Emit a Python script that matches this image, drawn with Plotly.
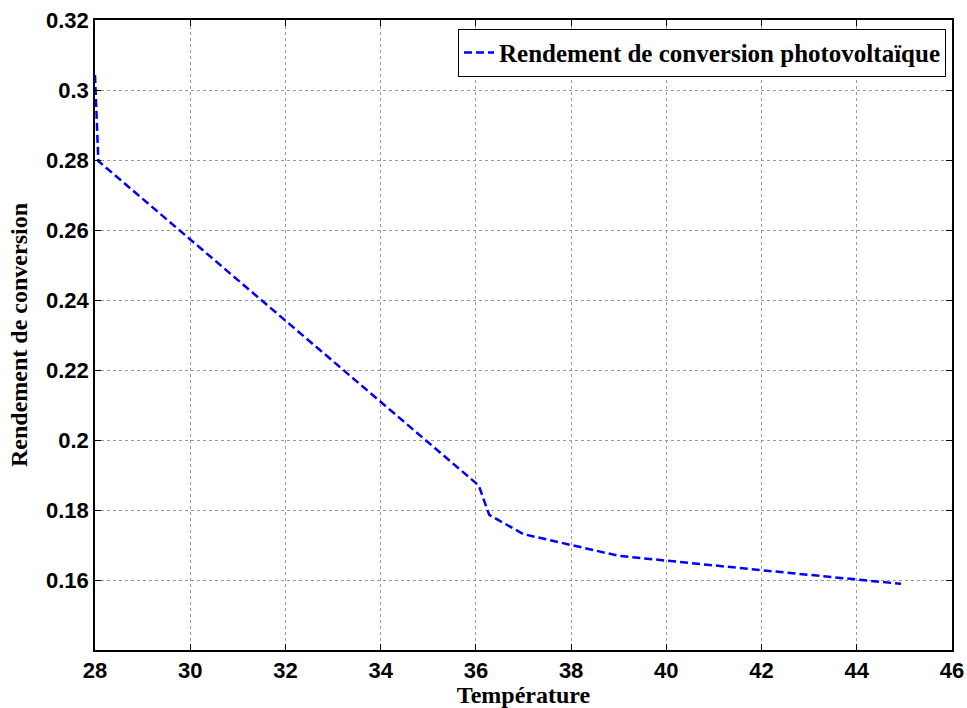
import plotly.graph_objects as go

temperature = [28.0, 28.07, 36.06, 36.28, 37.0, 39.0, 42.0, 44.0, 44.93]
rendement = [0.3043, 0.2797, 0.1870, 0.1786, 0.1731, 0.1669, 0.1628, 0.1600, 0.1589]

x_ticks = [28, 30, 32, 34, 36, 38, 40, 42, 44, 46]
y_ticks = [0.16, 0.18, 0.2, 0.22, 0.24, 0.26, 0.28, 0.3, 0.32]
y_ticktext = ["0.16", "0.18", "0.2", "0.22", "0.24", "0.26", "0.28", "0.3", "0.32"]

fig = go.Figure()
fig.add_trace(go.Scatter(
    x=temperature, y=rendement, mode="lines",
    name="<b>Rendement de conversion photovoltaïque</b>",
    line=dict(color="#0000FF", width=2.5, dash="8px,4px"),
))

axis_common = dict(
    showline=True, linecolor="black", linewidth=1.5, mirror="ticks",
    ticks="inside", ticklen=6, tickcolor="black", tickwidth=1,
    showgrid=True, gridcolor="#9a9a9a", griddash="dot", gridwidth=1,
    zeroline=False, automargin=False, ticklabeloverflow="allow",
    tickfont=dict(family="Liberation Sans, Arial", size=22, color="black", weight="bold"),
)

fig.update_xaxes(
    range=[28, 46], tickvals=x_ticks,
    title=dict(text="<b>Température</b>", font=dict(family="Liberation Serif, Times New Roman", size=24, color="black"), standoff=0),
    **axis_common,
)
fig.update_yaxes(
    range=[0.14, 0.32], tickvals=y_ticks, ticktext=y_ticktext,
    title=dict(text="<b>Rendement de conversion</b>", font=dict(family="Liberation Serif, Times New Roman", size=24, color="black"), standoff=12),
    **axis_common,
)

fig.update_layout(
    width=967, height=708,
    margin=dict(l=95, r=15, t=20, b=58),
    paper_bgcolor="white", plot_bgcolor="white",
    showlegend=True,
    legend=dict(
        x=0.993, y=0.986, xanchor="right", yanchor="top",
        bgcolor="white", bordercolor="black", borderwidth=1,
        font=dict(family="Liberation Serif, Times New Roman", size=25, color="black"),
    ),
)

fig.write_html(
    "out.html",
    config={"displayModeBar": False},
    post_script="document.body.style.margin='0';document.body.style.overflow='hidden';",
)
